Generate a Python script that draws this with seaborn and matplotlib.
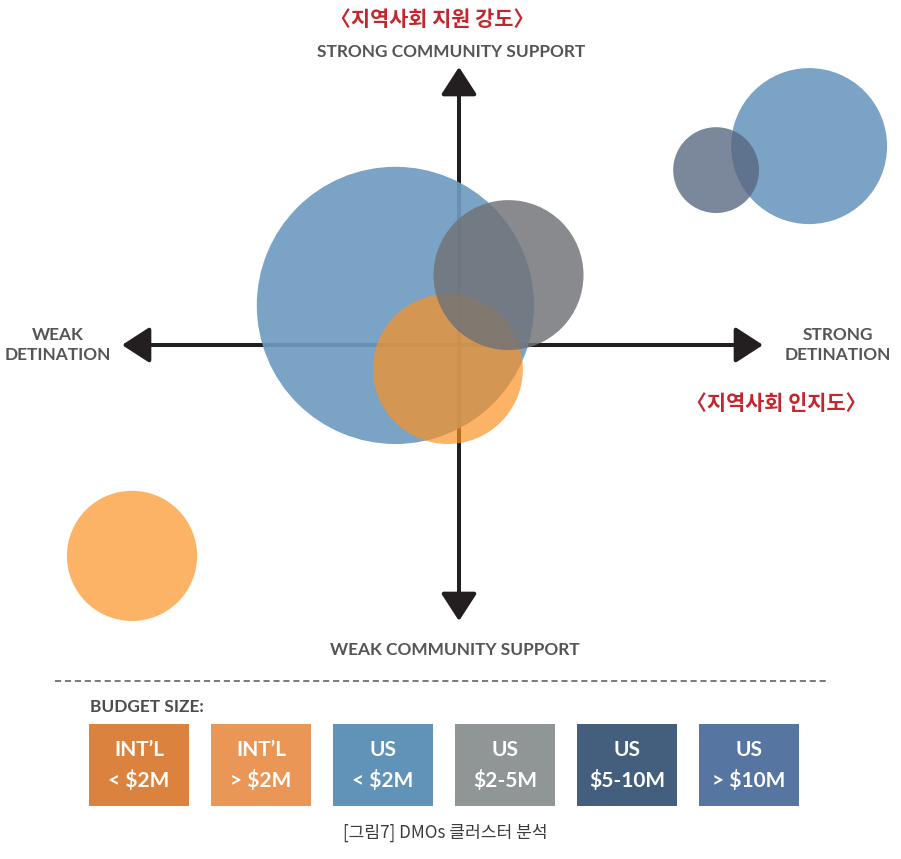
import matplotlib
matplotlib.use("Agg")
import matplotlib.pyplot as plt
from matplotlib.patches import FancyArrowPatch, Rectangle
import seaborn as sns

# bubble data (position in "pixels / 30" units, origin at the axes cross)
groups = ["US < $2M", "INT'L > $2M", "US $2-5M", "US > $10M", "US $5-10M", "INT'L < $2M"]
destination = [-2.12, -0.37, 1.65, 11.67, 8.57, -10.9]
community = [1.32, -0.80, 2.33, 6.63, 5.83, -7.03]
radius = [4.62, 2.5, 2.5, 2.6, 1.43, 2.17]
bubble_colors = ["#6f9bc1", "#fc9120", "#717277", "#6f9bc1", "#58677f", "#fc9120"]
bubble_alpha = [0.92, 0.69, 0.83, 0.92, 0.79, 0.69]

# legend boxes
legend_top = ["INT\u2019L", "INT\u2019L", "US", "US", "US", "US"]
legend_bottom = ["< $2M", "> $2M", "< $2M", "$2-5M", "$5-10M", "> $10M"]
legend_colors = ["#db823f", "#ea9657", "#6192b8", "#909595", "#445f7e", "#5676a1"]

W, H, DPI = 901, 859, 100
PX_PER_UNIT = 30
OX, OY = 459, 345

sns.set_theme(style="white")
plt.rcParams["font.family"] = ["Lato", "Noto Sans CJK KR", "DejaVu Sans"]
KR = ["Noto Sans CJK KR", "DejaVu Sans"]

fig = plt.figure(figsize=(W / DPI, H / DPI), dpi=DPI)
ax = fig.add_axes([0, 0, 1, 1])
ax.set_xlim(-OX / PX_PER_UNIT, (W - OX) / PX_PER_UNIT)
ax.set_ylim((OY - H) / PX_PER_UNIT, OY / PX_PER_UNIT)
ax.axis("off")


def u(px, py):
    # pixel position -> data units
    return (px - OX) / PX_PER_UNIT, (OY - py) / PX_PER_UNIT


def f(px, py):
    # pixel position -> figure fraction
    return px / W, 1 - py / H


# axes arrows
for a, b in [((122, 345), (763, 345)), ((459, 621), (459, 67))]:
    arr = FancyArrowPatch(u(*a), u(*b), arrowstyle="<|-|>,head_length=17,head_width=11",
                          mutation_scale=1, lw=2.9, color="#231f20",
                          shrinkA=0, shrinkB=0, zorder=1)
    ax.add_patch(arr)

# bubbles
for i in range(len(groups)):
    s = (2 * radius[i] * PX_PER_UNIT * 72 / DPI) ** 2
    sns.scatterplot(x=[destination[i]], y=[community[i]], s=s, color=bubble_colors[i],
                    alpha=bubble_alpha[i], linewidth=0, edgecolor="none", ax=ax,
                    zorder=2 + i, legend=False)

red = "#c1272d"
gray = "#555557"
fig.text(*f(432, 20), "\u3008지역사회 지원 강도\u3009", color=red, fontsize=15,
         fontweight="bold", family=KR, ha="center", va="center")
fig.text(*f(776, 404), "\u3008지역사회 인지도\u3009", color=red, fontsize=15,
         fontweight="bold", family=KR, ha="center", va="center")
fig.text(*f(451, 52), "STRONG COMMUNITY SUPPORT", color=gray, fontsize=12.4,
         fontweight="bold", ha="center", va="center")
fig.text(*f(455, 650), "WEAK COMMUNITY SUPPORT", color=gray, fontsize=12.4,
         fontweight="bold", ha="center", va="center")
fig.text(*f(58, 345), "WEAK\nDETINATION", color=gray, fontsize=12.4,
         fontweight="bold", ha="center", va="center", linespacing=1.35)
fig.text(*f(838, 345), "STRONG\nDETINATION", color=gray, fontsize=12.4,
         fontweight="bold", ha="center", va="center", linespacing=1.35)

# dashed divider
x0, y0 = f(55, 681)
x1, _ = f(826, 681)
fig.add_artist(plt.Line2D([x0, x1], [y0, y0], color="#555555", lw=1.1,
                          linestyle=(0, (4, 2.5))))

fig.text(*f(90, 707), "BUDGET SIZE:", color="#4d4d4f", fontsize=12.4,
         fontweight="bold", ha="left", va="center")

bw, bh = 100 / W, 82 / H
for i in range(len(legend_colors)):
    left = 89 + 122 * i
    bx, by = f(left, 806)
    fig.add_artist(Rectangle((bx, by), bw, bh, transform=fig.transFigure,
                             facecolor=legend_colors[i], edgecolor="none"))
    fig.text(*f(left + 50, 750), legend_top[i], color="white", fontsize=15,
             fontweight="bold", ha="center", va="center")
    fig.text(*f(left + 50, 781), legend_bottom[i], color="white", fontsize=15,
             fontweight="bold", ha="center", va="center")

fig.text(*f(445, 833), "[그림7] DMOs 클러스터 분석", color="#3c3c3c", fontsize=12.3,
         family=KR, ha="center", va="center")

fig.savefig("out.png", dpi=DPI)
